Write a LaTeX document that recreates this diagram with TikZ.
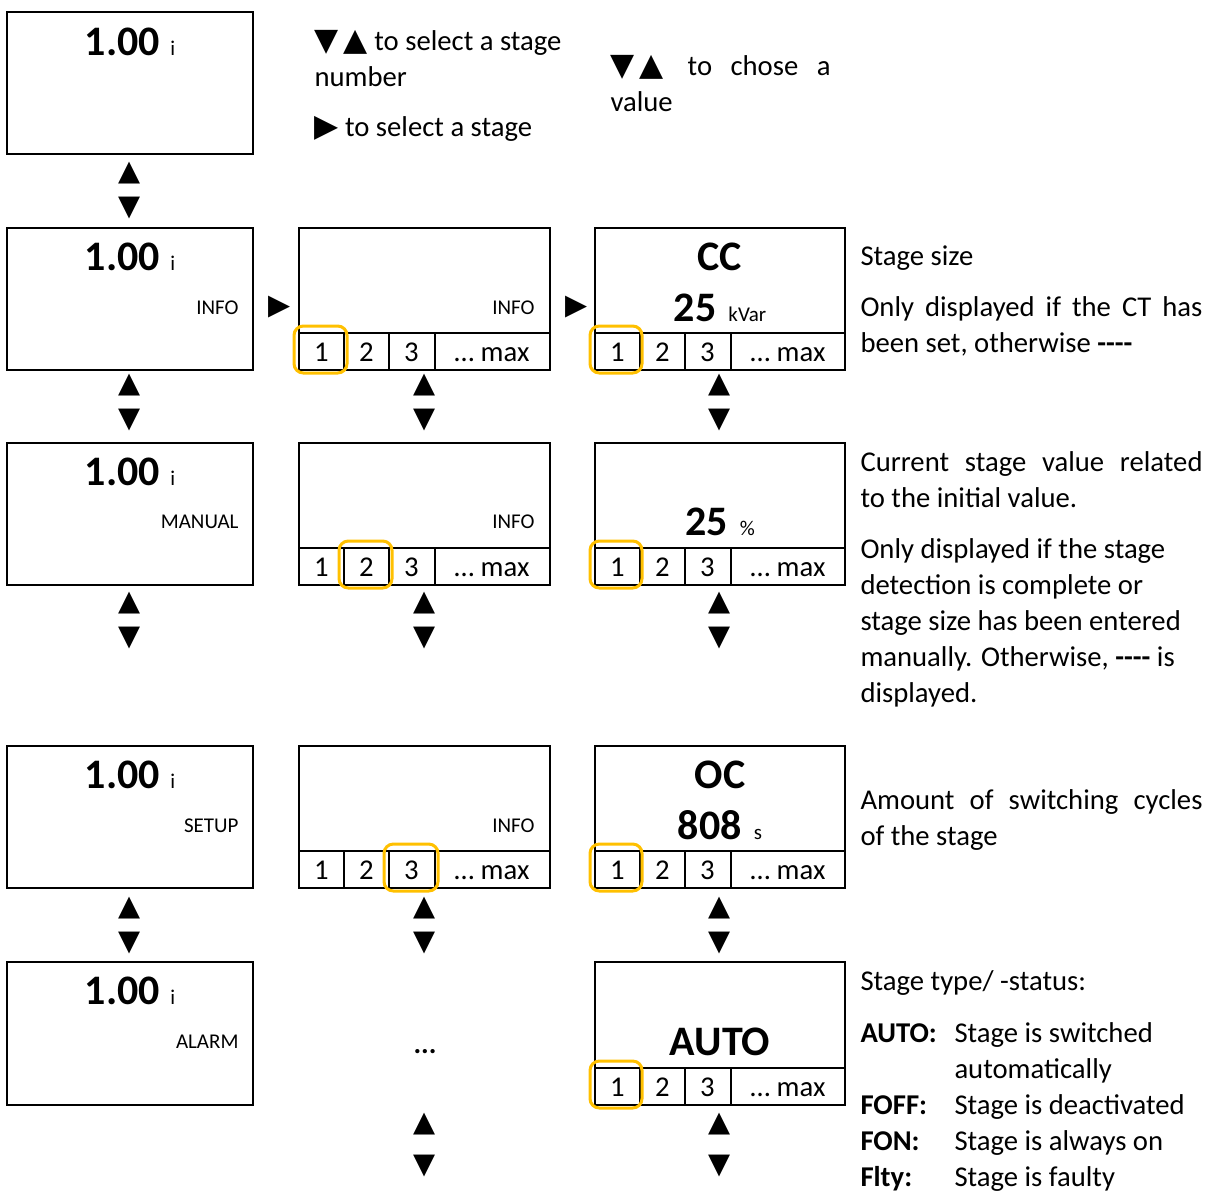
\documentclass[tikz,border=0pt]{standalone}
\usepackage{fontspec}
\setmainfont{Carlito}
\newfontfamily\symfont{DejaVu Sans}
\definecolor{selgold}{RGB}{255,192,0}
\newcommand\bodyfnt{\fontsize{21.5}{27}\selectfont}
\newcommand\bigval{\fontsize{31.5}{36}\selectfont\bfseries}
\newcommand\unitfnt{\fontsize{15.75}{19}\selectfont}
\newcommand\tri[1]{{\symfont\fontsize{23.5}{27}\selectfont #1}}
\newcommand\nodash{\textbf{-{}-{}-{}-}}

\tikzset{every picture/.style={line width=0.75pt},
  screen/.style={line width=1.5pt},
  pick/.style={draw=selgold, line width=2.25pt, rounded corners=7pt},
  glyph/.style={inner sep=0pt, font=\bodyfnt\symfont},
  note/.style={anchor=base west, inner sep=0pt, align=left, font=\bodyfnt},
  val/.style={anchor=base, inner sep=0pt},
  mode/.style={anchor=base east, inner sep=0pt, font=\unitfnt},
  tab/.style={anchor=base, inner sep=0pt, font=\bodyfnt}}

\begin{document}
\begin{tikzpicture}[x=0.75pt,y=0.75pt,yscale=-1,xscale=1]
\useasboundingbox (0,0) rectangle (1213,1192);

%Shape: Rectangle, main screens
\draw[screen] (7,12) rectangle (253,154);
\draw[screen] (7,228) rectangle (253,370);
\draw[screen] (7,443) rectangle (253,585);
\draw[screen] (7,746) rectangle (253,888);
\draw[screen] (7,962) rectangle (253,1105);
%Shape: Rectangle, stage screens
\draw[screen] (299,228) rectangle (550,370);
\draw[screen] (299,443) rectangle (550,585);
\draw[screen] (299,746) rectangle (550,888);
%Shape: Rectangle, value screens
\draw[screen] (595,228) rectangle (845,370);
\draw[screen] (595,443) rectangle (845,585);
\draw[screen] (595,746) rectangle (845,888);
\draw[screen] (595,962) rectangle (845,1105);

%Stage bars
\foreach \xl/\yb/\nm in {299/370/b1, 299/585/b2, 299/888/b3, 595/370/c1, 595/585/c2, 595/888/c3, 595/1105/c4} {
  \draw[screen] (\xl,\yb-37) -- (\xl+250,\yb-37);
  \draw[screen] (\xl+45,\yb-37) -- (\xl+45,\yb);
  \draw[screen] (\xl+90,\yb-37) -- (\xl+90,\yb);
  \draw[screen] (\xl+135.5,\yb-37) -- (\xl+135.5,\yb);
  \node[tab] (\nm-1) at (\xl+22.5,\yb-9) {1};
  \node[tab] (\nm-2) at (\xl+67.5,\yb-9) {2};
  \node[tab] (\nm-3) at (\xl+112.5,\yb-9) {3};
  \node[tab] (\nm-max) at (\xl+193,\yb-9) {… max};
}

%Selected stage
\draw[pick] (294,326) rectangle (347,373);
\draw[pick] (339,541) rectangle (392,588);
\draw[pick] (384,844) rectangle (438,891);
\foreach \yb in {370,585,888,1105} {
  \draw[pick] (590,\yb-44) rectangle (642,\yb+3);
}

%Up and down keys
\foreach \ax/\ay/\nm in {130/173/a0, 130/385/a1, 425/385/b1, 720/385/c1, 130/603/a2, 425/603/b2, 720/603/c2, 130/908/a3, 425/908/b3, 720/908/c3} {
  \node[glyph] (up-\nm) at (\ax,\ay) {▲};
  \node[glyph] (dn-\nm) at (\ax,\ay+35) {▼};
}
\node[glyph] (up-b4) at (425,1124) {▲};
\node[glyph] (dn-b4) at (425,1166) {▼};
\node[glyph] (up-c4) at (720,1124) {▲};
\node[glyph] (dn-c4) at (720,1166) {▼};
%Right keys
\node[glyph] (rt-a1) at (280,307) {▶};
\node[glyph] (rt-b1) at (577,307) {▶};

% Text Node, main screens
\node[val] (a0val) at (130,55) {{\bigval 1.00}\hspace{8pt}{\unitfnt i}};
\node[val] (a1val) at (130,270) {{\bigval 1.00}\hspace{8pt}{\unitfnt i}};
\node[mode] (a1mode) at (239,314) {INFO};
\node[val] (a2val) at (130,485) {{\bigval 1.00}\hspace{8pt}{\unitfnt i}};
\node[mode] (a2mode) at (239,528) {MANUAL};
\node[val] (a3val) at (130,788) {{\bigval 1.00}\hspace{8pt}{\unitfnt i}};
\node[mode] (a3mode) at (239,832) {SETUP};
\node[val] (a4val) at (130,1004) {{\bigval 1.00}\hspace{8pt}{\unitfnt i}};
\node[mode] (a4mode) at (239,1048) {ALARM};
% Text Node, stage screens
\node[mode] (b1mode) at (535,314) {INFO};
\node[mode] (b2mode) at (535,528) {INFO};
\node[mode] (b3mode) at (535,832) {INFO};
\node[val] (b4dots) at (425,1053) {\bodyfnt\bfseries ...};
% Text Node, value screens
\node[val] (c1name) at (720,270) {\bigval CC};
\node[val] (c1val) at (720,321) {{\bigval 25}\hspace{9pt}{\unitfnt kVar}};
\node[val] (c2val) at (720,535) {{\bigval 25}\hspace{9pt}{\unitfnt \%}};
\node[val] (c3name) at (720,788) {\bigval OC};
\node[val] (c3val) at (720,839) {{\bigval 808}\hspace{9pt}{\unitfnt s}};
\node[val] (c4name) at (720,1055) {\bigval AUTO};

% Text Node, hints (base = last line)
\node[note] (hint1) at (314,86) {\tri{▼\,▲} to select a stage\\number};
\node[note] (hint2) at (314,136) {\tri{▶} to select a stage};
\node[note] (hint3) at (610,111) {\makebox[165pt][s]{\tri{▼\,▲}\hspace{4pt} to chose a}\\value};
% Text Node, descriptions
\node[note] (desc1) at (860,265) {Stage size};
\node[note] (desc2) at (860,352) {\makebox[256.5pt][s]{Only displayed if the CT has}\\been set, otherwise \nodash};
\node[note] (desc3) at (860,507) {\makebox[256.5pt][s]{Current stage value related}\\to the initial value.};
\node[note] (desc4) at (860,702) {Only displayed if the stage\\detection is complete or\\stage size has been entered\\manually. Otherwise, \nodash{} is\\displayed.};
\node[note] (desc5) at (860,845) {\makebox[256.5pt][s]{Amount of switching cycles}\\of the stage};
\node[note] (desc6) at (860,990) {Stage type/ -status:};
\node[note] (key1) at (860,1042) {\textbf{AUTO:}};
\node[note] (key2) at (860,1114) {\textbf{FOFF:}};
\node[note] (key3) at (860,1150) {\textbf{FON:}};
\node[note] (key4) at (860,1186) {\textbf{Flty:}};
\node[note] (state1) at (954,1078) {Stage is switched\\automatically};
\node[note] (state2) at (954,1114) {Stage is deactivated};
\node[note] (state3) at (954,1150) {Stage is always on};
\node[note] (state4) at (954,1186) {Stage is faulty};

\end{tikzpicture}
\end{document}
